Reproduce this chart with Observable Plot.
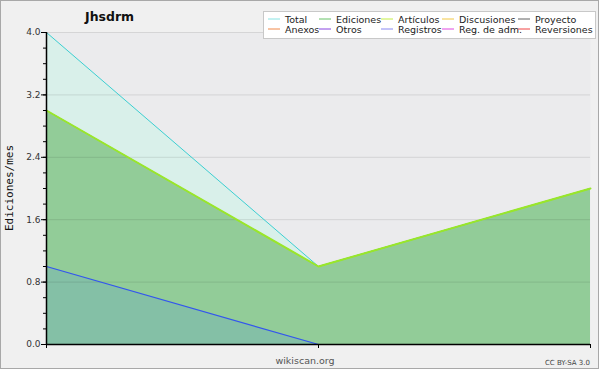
<!DOCTYPE html>
<html>
<head>
<meta charset="utf-8">
<script src="https://cdn.jsdelivr.net/npm/d3@7"></script>
<script src="https://cdn.jsdelivr.net/npm/@observablehq/plot@0.6"></script>
<style>
  html, body { margin: 0; padding: 0; background: #ffffff; }
  #chart svg { display: block; font-family: "DejaVu Sans", sans-serif; }
</style>
</head>
<body>
<div id="chart"></div>
<script>
// ---- data ----
const periods = [0, 1, 2];
const total = [4, 1, 2];
const ediciones = [3, 1, 2];
const articulos = [3, 1, 2];
const registros = [1, 0, 0];
const yMajorTicks = [0, 0.8, 1.6, 2.4, 3.2, 4.0];
const yMinorTicks = d3.range(0, 4.001, 0.2);
const legendNames = ["Total", "Ediciones", "Artículos", "Discusiones", "Proyecto",
                     "Anexos", "Otros", "Registros", "Reg. de adm.", "Reversiones"];
const legendColors = ["#88e4e4", "#66c266", "#c4ee44", "#f2c844", "#606060",
                      "#f08848", "#8844e0", "#8888f2", "#e048e0", "#f04444"];
const title = "Jhsdrm";
const yLabel = "Ediciones/mes";
const source = "wikiscan.org";
const license = "CC BY-SA 3.0";

const rows = periods.map((p, i) => ({
  p, total: total[i], ediciones: ediciones[i], articulos: articulos[i], registros: registros[i]
}));

const W = 600, H = 370;
const mL = 46, mR = 10, mT = 32, mB = 26;

const plot = Plot.plot({
  width: W, height: H,
  marginLeft: mL, marginRight: mR, marginTop: mT, marginBottom: mB,
  style: { background: "transparent", fontFamily: "DejaVu Sans, sans-serif" },
  x: { domain: [0, 2], axis: null },
  y: { domain: [0, 4], axis: null },
  marks: [
    Plot.frame({ fill: "#ebebed", stroke: null }),
    Plot.areaY(rows, { x: "p", y: "total", fill: "#d9f0ea" }),
    Plot.areaY(rows, { x: "p", y: "ediciones", fill: "#92cc98" }),
    Plot.areaY(rows, { x: "p", y: "registros", fill: "#84c0a6" }),
    Plot.gridY(yMajorTicks.filter(d => d > 0), { stroke: "#000", strokeOpacity: 0.1, strokeWidth: 1 }),
    Plot.line(rows, { x: "p", y: "total", stroke: "#3ccfd2", strokeWidth: 1 }),
    Plot.line(rows, { x: "p", y: "ediciones", stroke: "#66c266", strokeWidth: 1 }),
    Plot.line(rows, { x: "p", y: "articulos", stroke: "#9ae62a", strokeWidth: 2 }),
    Plot.line(rows, { x: "p", y: "registros", stroke: "#3355ee", strokeWidth: 1.2 }),
    Plot.axisY({ ticks: yMinorTicks, tickSize: 3, tickFormat: () => "", stroke: "#000", label: null }),
    Plot.axisY({ ticks: yMajorTicks, tickSize: 5, tickPadding: 1, tickFormat: d => d.toFixed(1),
                 fontSize: 9, fill: "#333", stroke: "#000", label: null }),
    Plot.axisX({ ticks: periods, tickSize: 4, tickFormat: () => "", stroke: "#000", label: null }),
    Plot.ruleX([0], { stroke: "#000", strokeWidth: 1.5 }),
    Plot.ruleY([0], { stroke: "#000", strokeWidth: 1.5 })
  ]
});

const svg = d3.select(plot);
// page background + border
svg.insert("rect", ":first-child")
  .attr("x", 0.5).attr("y", 0.5).attr("width", 598).attr("height", 368)
  .attr("fill", "#f0f0f0").attr("stroke", "#a8a8a8");

// title
svg.append("text").attr("x", 85).attr("y", 21).attr("text-anchor", "start")
  .attr("font-size", 12.5).attr("font-weight", "bold").attr("fill", "#111")
  .text(title);

// y label
svg.append("text")
  .attr("transform", `translate(13,${mT + (H - mT - mB) / 2}) rotate(-90)`)
  .attr("text-anchor", "middle")
  .attr("font-family", "DejaVu Sans Mono, monospace")
  .attr("font-size", 11).attr("fill", "#111")
  .text(yLabel);

// source & license
svg.append("text").attr("x", 305).attr("y", 364).attr("text-anchor", "middle")
  .attr("font-size", 9.5).attr("fill", "#555").text(source);
svg.append("text").attr("x", 590).attr("y", 365).attr("text-anchor", "end")
  .attr("font-size", 7).attr("fill", "#444").text(license);

// legend
const lg = svg.append("g");
lg.append("rect").attr("x", 263.5).attr("y", 11.5).attr("width", 332).attr("height", 27)
  .attr("fill", "#ffffff").attr("stroke", "#c8c8c8");
const colX = [268, 319, 381, 442, 518];
const rowY = [19, 29];
legendNames.forEach((name, i) => {
  const c = i % 5, r = Math.floor(i / 5);
  const g = lg.append("g").attr("transform", `translate(${colX[c]},${rowY[r]})`);
  g.append("line").attr("x1", 0).attr("x2", 12).attr("y1", 0).attr("y2", 0)
    .attr("stroke", legendColors[i]).attr("stroke-width", 1);
  g.append("text").attr("x", 17).attr("y", 3.5).attr("text-anchor", "start")
    .attr("font-size", 9.5).attr("fill", "#222").text(name);
});

document.getElementById("chart").appendChild(plot);
</script>
</body>
</html>
